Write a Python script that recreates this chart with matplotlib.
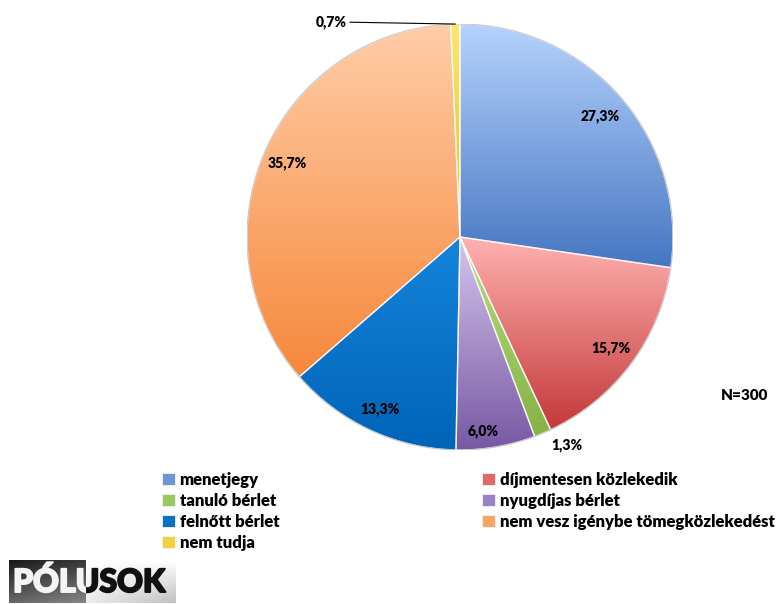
import numpy as np
import matplotlib
matplotlib.use('Agg')
import matplotlib.pyplot as plt
import matplotlib.patheffects as pe
from matplotlib.patches import Rectangle
from matplotlib.colors import LinearSegmentedColormap

plt.rcParams['font.family'] = ['Lato', 'DejaVu Sans']

categories = ['menetjegy', 'díjmentesen közlekedik', 'tanuló bérlet', 'nyugdíjas bérlet',
              'felnőtt bérlet', 'nem vesz igénybe tömegközlekedést', 'nem tudja']
shares = [27.3, 15.7, 1.3, 6.0, 13.3, 35.7, 0.7]
n_total = 300

# színátmenet szeletenként: felül világos, alul sötét
top_colors = ['#b6d2fd', '#ffb2b0', '#b8de80', '#d4c6ec', '#1484da', '#ffcda8', '#fbe66e']
bottom_colors = ['#4576c2', '#c4383a', '#86b246', '#7858a4', '#0064b8', '#f6883a', '#e6c01c']
legend_colors = ['#6d96d8', '#e06868', '#9cc860', '#9a80c4', '#0872c8', '#f8a468', '#f2d040']

# címke távolság (sugár arányában) és szög eltolás fokban
label_r = [0.87, 0.88, 1.10, 0.92, 0.89, 0.88, None]
label_nudge = [0, 0, 4.3, -3, 0, 0, 0]
W = 'heavy'

fig = plt.figure(figsize=(7.78, 6.04), dpi=100)
ax = fig.add_axes([247 / 778, 1 - 450 / 604, 426 / 778, 426 / 604])

wedges, _ = ax.pie(shares, startangle=90, counterclock=False, radius=1)

grad = np.linspace(0, 1, 256).reshape(-1, 1)
for w, c1, c2 in zip(wedges, top_colors, bottom_colors):
    ext = w.get_path().get_extents()
    cmap = LinearSegmentedColormap.from_list('', [c1, c2])
    im = ax.imshow(grad, cmap=cmap, extent=(ext.x0, ext.x1, ext.y0, ext.y1),
                   origin='upper', aspect='auto', zorder=1, interpolation='bilinear')
    im.set_clip_path(w)
    w.set_facecolor('none')
    w.set_edgecolor((1, 1, 1, 0.7))
    w.set_linewidth(1.0)
    w.set_zorder(2)

# külső perem
rim = plt.Circle((0, 0), 1.0, fill=False, ec='#c8c8c8', lw=0.8, zorder=3)
ax.add_patch(rim)

for i, w in enumerate(wedges):
    txt = ('%.1f%%' % shares[i]).replace('.', ',')
    mid = np.deg2rad((w.theta1 + w.theta2) / 2 + label_nudge[i])
    if label_r[i] is None:
        # kis szelet: címke vezetővonallal
        ax.annotate(txt, xy=(np.cos(mid), np.sin(mid)), xytext=(-0.53, 1.01),
                    ha='right', va='center', fontsize=10, fontweight=W,
                    arrowprops=dict(arrowstyle='-', color='black', lw=0.8,
                                    shrinkA=0, shrinkB=0), zorder=5)
    else:
        r = label_r[i]
        ax.text(r * np.cos(mid), r * np.sin(mid), txt, ha='center', va='center',
                fontsize=10, fontweight=W, zorder=5)

ax.set_xlim(-1, 1)
ax.set_ylim(-1, 1)
ax.set_aspect('equal')
ax.axis('off')

fig.text(745 / 778, 1 - 396 / 604, 'N=%d' % n_total, ha='center', va='center',
         fontsize=11, fontweight=W)

# jelmagyarázat két oszlopban (oszloponként töltődik)
order = [0, 2, 4, 6, 1, 3, 5]
handles = [Rectangle((0, 0), 1, 1, fc=legend_colors[i], ec='#f4f4f4', lw=0.6) for i in order]
labels = [categories[i] for i in order]
fig.legend(handles, labels, ncol=2, loc='upper left', bbox_to_anchor=(162 / 778, 1 - 472 / 604),
           frameon=False, handlelength=0.75, handleheight=0.75, handletextpad=0.3,
           columnspacing=12.2, labelspacing=0.3, borderaxespad=0, borderpad=0,
           prop=dict(weight=W, size=12))

# logó
lax = fig.add_axes([0, 0, 210 / 778, 49 / 604])
lax.set_xlim(0, 210)
lax.set_ylim(49, 0)
lax.axis('off')
yy = np.linspace(0, 1, 64).reshape(-1, 1)
xx = np.linspace(0, 1, 64).reshape(1, -1)
dark = 0.10 + 0.30 * yy + 0.12 * xx
light = 1.0 - 0.25 * yy * (0.3 + 0.7 * xx)
lax.imshow(dark, cmap='gray', vmin=0, vmax=1, extent=(9, 86, 48, 5), aspect='auto',
           interpolation='bilinear')
lax.imshow(light, cmap='gray', vmin=0, vmax=1, extent=(86, 176, 48, 5), aspect='auto',
           interpolation='bilinear')
clip_l = Rectangle((0, 0), 86, 49, transform=lax.transData, visible=False)
clip_r = Rectangle((86, 0), 124, 49, transform=lax.transData, visible=False)
lax.add_patch(clip_l)
lax.add_patch(clip_r)
for col, clip in (('#f4f4f4', clip_l), ('#111111', clip_r)):
    t = lax.text(13, 37, 'PÓLUSOK', ha='left', va='baseline', color=col, clip_on=True,
                 fontsize=23, fontweight='black',
                 path_effects=[pe.withStroke(linewidth=1.4, foreground=col)])
    t.set_clip_path(clip)

fig.savefig('out.png', dpi=100)
